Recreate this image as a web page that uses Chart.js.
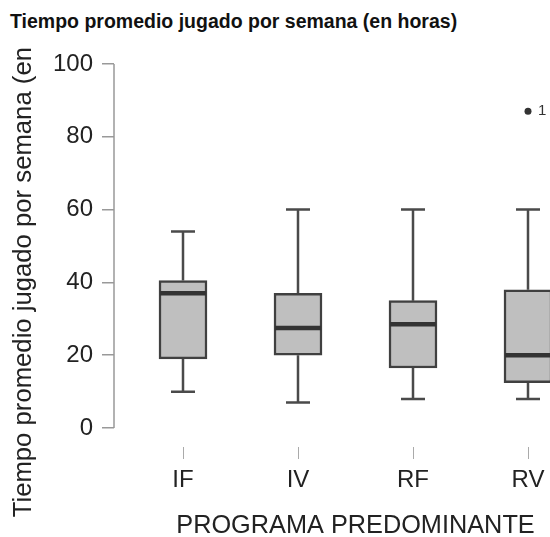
<!DOCTYPE html>
<html>
<head>
<meta charset="utf-8">
<script src="https://cdn.jsdelivr.net/npm/chart.js@4.4.1/dist/chart.umd.min.js"></script>
<style>
  html, body { margin: 0; padding: 0; background: #fff; overflow: hidden; }
  #frame { position: relative; width: 550px; height: 537px; overflow: hidden; background: #fff; }
  #title {
    position: absolute; left: 10px; top: 11px;
    font: bold 19.5px "Liberation Sans", Arial, sans-serif; line-height: 20px;
    color: #111; white-space: nowrap;
  }
  #plot { position: absolute; left: 0; top: 45px; }
</style>
</head>
<body>
<div id="frame">
  <div id="title">Tiempo promedio jugado por semana (en horas)</div>
  <canvas id="plot" width="601" height="500"></canvas>
</div>
<script>
// Five-number summaries per programme (hours per week)
const categories    = ['IF', 'IV', 'RF', 'RV'];
const lowerWhisker  = [10, 7, 8, 8];
const firstQuartile = [19, 20, 16.5, 12.5];
const medians       = [37, 27.5, 28.5, 20];
const thirdQuartile = [40.5, 37, 35, 38];
const upperWhisker  = [54, 60, 60, 60];

// Points beyond the whiskers
const outlierCategory = ['RV'];
const outlierValues   = [87];
const outlierLabels   = ['1'];

const yTickValues = [0, 20, 40, 60, 80, 100];
const yAxisTitle = 'Tiempo promedio jugado por semana (en horas)';

const FONT = '"Liberation Sans", Arial, sans-serif';
const position = name => categories.indexOf(name) + 1;

// Scales keep a fixed size and no extra label padding
const fixSize = (prop, size) => s => {
  s[prop] = size;
  s.paddingTop = 0; s.paddingBottom = 0; s.paddingLeft = 0; s.paddingRight = 0;
};

// Whiskers, caps, medians, outlier labels, the 0–100 axis line and its title
const boxPlotPlugin = {
  id: 'boxWhiskers',
  beforeDatasetsDraw(chart) {
    const { ctx, scales: { x, y } } = chart;
    const boxes = chart.getDatasetMeta(0).data;
    ctx.save();
    ctx.strokeStyle = '#4a4a4a';
    ctx.lineWidth = 2.5;
    categories.forEach((c, i) => {
      const cx = x.getPixelForValue(i + 1);
      const half = boxes[i].width / 4;
      const yLo = y.getPixelForValue(lowerWhisker[i]);
      const yQ1 = y.getPixelForValue(firstQuartile[i]);
      const yQ3 = y.getPixelForValue(thirdQuartile[i]);
      const yHi = y.getPixelForValue(upperWhisker[i]);
      ctx.beginPath();
      ctx.moveTo(cx, yQ3); ctx.lineTo(cx, yHi);
      ctx.moveTo(cx, yQ1); ctx.lineTo(cx, yLo);
      ctx.moveTo(cx - half, yHi); ctx.lineTo(cx + half, yHi);
      ctx.moveTo(cx - half, yLo); ctx.lineTo(cx + half, yLo);
      ctx.stroke();
    });
    ctx.restore();
  },
  afterDatasetsDraw(chart) {
    const { ctx, chartArea, scales: { x, y } } = chart;
    const boxes = chart.getDatasetMeta(0).data;
    ctx.save();
    // medians
    ctx.strokeStyle = '#333333';
    ctx.lineWidth = 4.5;
    categories.forEach((c, i) => {
      const cx = x.getPixelForValue(i + 1);
      const half = boxes[i].width / 2 - 1;
      const ym = y.getPixelForValue(medians[i]);
      ctx.beginPath();
      ctx.moveTo(cx - half, ym); ctx.lineTo(cx + half, ym);
      ctx.stroke();
    });
    // outlier labels
    const pts = chart.getDatasetMeta(1).data;
    ctx.fillStyle = '#333';
    ctx.font = '15px ' + FONT;
    ctx.textBaseline = 'middle';
    ctx.textAlign = 'left';
    pts.forEach((p, k) => ctx.fillText(outlierLabels[k], p.x + 10, p.y));
    // y axis line spanning the labelled range
    ctx.strokeStyle = '#999';
    ctx.lineWidth = 1.5;
    ctx.beginPath();
    ctx.moveTo(chartArea.left, y.getPixelForValue(yTickValues[0]));
    ctx.lineTo(chartArea.left, y.getPixelForValue(yTickValues[yTickValues.length - 1]));
    ctx.stroke();
    // rotated y axis title
    ctx.translate(31, (chartArea.top + chartArea.bottom) / 2 - 6);
    ctx.rotate(-Math.PI / 2);
    ctx.fillStyle = '#222';
    ctx.font = '25.7px ' + FONT;
    ctx.textAlign = 'center';
    ctx.textBaseline = 'alphabetic';
    ctx.fillText(yAxisTitle, 0, 0);
    ctx.restore();
  }
};

new Chart(document.getElementById('plot'), {
  type: 'bar',
  data: {
    datasets: [
      {
        type: 'bar',
        data: categories.map((c, i) => ({ x: i + 1, y: [firstQuartile[i], thirdQuartile[i]] })),
        backgroundColor: '#bfbfbf',
        borderColor: '#404040',
        borderWidth: 2.5,
        borderSkipped: false,
        barThickness: 48
      },
      {
        type: 'scatter',
        data: outlierCategory.map((c, k) => ({ x: position(c), y: outlierValues[k] })),
        pointRadius: 3.5,
        pointBackgroundColor: '#333',
        pointBorderWidth: 0
      }
    ]
  },
  options: {
    responsive: false,
    devicePixelRatio: 1,
    animation: false,
    events: [],
    layout: { padding: { top: 4.4, left: 0, right: 0, bottom: 0 } },
    plugins: { legend: { display: false }, tooltip: { enabled: false } },
    scales: {
      x: {
        type: 'linear',
        min: 0.4,
        max: 4.6,
        offset: false,
        afterBuildTicks: s => { s.ticks = categories.map((c, i) => ({ value: i + 1 })); },
        afterFit: fixSize('height', 98),
        ticks: {
          callback: v => categories[Math.round(v) - 1] ?? '',
          autoSkip: false,
          maxRotation: 0,
          padding: 7,
          color: '#222',
          font: { family: FONT, size: 24 }
        },
        grid: { offset: false, drawOnChartArea: false, tickLength: 12, color: '#aaa', lineWidth: 1 },
        border: { display: false },
        title: {
          display: true,
          text: 'PROGRAMA PREDOMINANTE',
          color: '#222',
          font: { family: FONT, size: 25.3 },
          padding: { top: 0, bottom: 4 }
        }
      },
      y: {
        type: 'linear',
        min: -5.2,
        max: 104,
        afterBuildTicks: s => { s.ticks = yTickValues.map(v => ({ value: v })); },
        afterFit: fixSize('width', 114),
        ticks: {
          padding: 9,
          color: '#222',
          font: { family: FONT, size: 24 }
        },
        grid: { drawOnChartArea: false, tickLength: 12, color: '#999', lineWidth: 1.5 },
        border: { display: false }
      }
    }
  },
  plugins: [boxPlotPlugin]
});
</script>
</body>
</html>
